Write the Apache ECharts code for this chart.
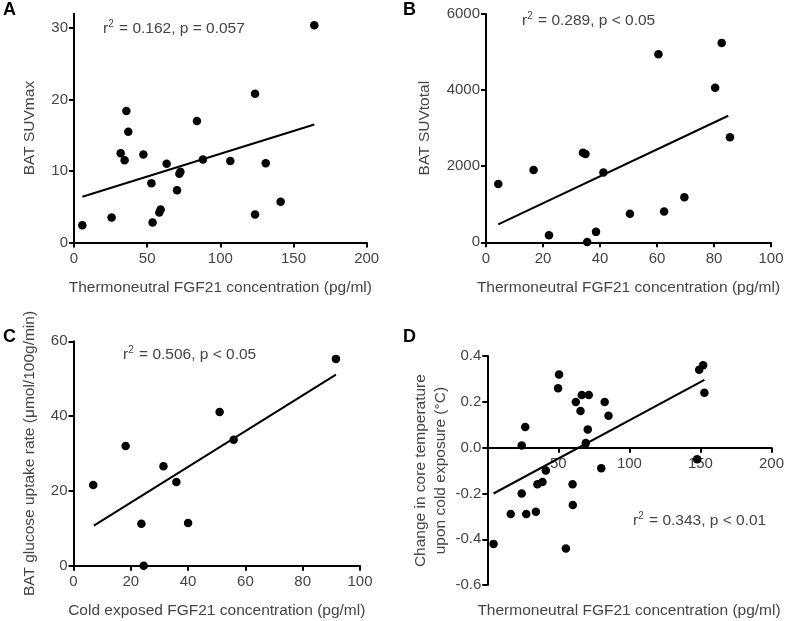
<!DOCTYPE html>
<html>
<head>
<meta charset="utf-8">
<script src="https://cdn.jsdelivr.net/npm/echarts@6/dist/echarts.min.js"></script>
<style>
html,body{margin:0;padding:0;background:#fff;}
#chart{width:787px;height:621px;}
</style>
</head>
<body>
<div id="chart"></div>
<script>
// ---- Panel A: Thermoneutral FGF21 vs BAT SUVmax ----
const aX = [5.7, 25.7, 31.9, 34.6, 35.8, 37.1, 47.4, 52.9, 53.7, 58.3, 59.2, 63.3, 70.4, 72.0, 72.7, 84.0, 88.1, 106.8, 123.7, 123.7, 131.0, 141.2, 164.2];
const aY = [2.4, 3.5, 12.5, 11.5, 18.4, 15.5, 12.3, 8.3, 2.8, 4.2, 4.6, 11.0, 7.3, 9.6, 9.9, 17.0, 11.6, 11.4, 20.8, 3.9, 11.1, 5.7, 30.4];
const aFit = [[5.7, 6.4], [164.2, 16.5]];
const aXTicks = [0, 50, 100, 150, 200];
const aYTicks = [0, 10, 20, 30];

// ---- Panel B: Thermoneutral FGF21 vs BAT SUVtotal ----
const bX = [4.3, 16.7, 22.1, 34.0, 34.9, 35.5, 38.6, 41.2, 50.5, 60.5, 62.5, 69.6, 80.4, 82.7, 85.6];
const bY = [1535, 1897, 185, 2353, 2318, 9, 274, 1835, 750, 4941, 812, 1182, 4059, 5241, 2762];
const bFit = [[4.3, 470], [85.0, 3326]];
const bXTicks = [0, 20, 40, 60, 80, 100];
const bYTicks = [0, 2000, 4000, 6000];

// ---- Panel C: Cold exposed FGF21 vs BAT glucose uptake ----
const cX = [6.9, 18.2, 23.7, 24.5, 31.4, 35.9, 40.0, 51.0, 55.9, 91.6];
const cY = [21.6, 32.0, 11.2, 0.0, 26.6, 22.4, 11.4, 41.1, 33.7, 55.3];
const cFit = [[7.1, 10.7], [91.6, 51.1]];
const cXTicks = [0, 20, 40, 60, 80, 100];
const cYTicks = [0, 20, 40, 60];

// ---- Panel D: Thermoneutral FGF21 vs change in core temperature ----
const dX = [4.4, 16.5, 24.2, 24.2, 26.7, 27.4, 34.2, 35.3, 38.8, 41.2, 49.8, 50.5, 55.3, 60.0, 60.2, 62.3, 65.6, 66.5, 69.3, 70.7, 71.4, 80.2, 82.6, 85.3, 147.7, 149.1, 151.9, 152.8];
const dY = [-0.42, -0.29, 0.01, -0.20, 0.09, -0.29, -0.28, -0.16, -0.15, -0.10, 0.26, 0.32, -0.44, -0.16, -0.25, 0.20, 0.16, 0.23, 0.02, 0.08, 0.23, -0.09, 0.20, 0.14, -0.05, 0.34, 0.36, 0.24];
const dFit = [[4.4, -0.20], [152.8, 0.296]];
const dXTicks = [50, 100, 150, 200];
const dYTicks = [-0.6, -0.4, -0.2, 0.0, 0.2, 0.4];

const FONT = '"Liberation Sans", Arial, Helvetica, sans-serif';
const TXT = '#444';
const zip = (xs, ys) => xs.map((x, i) => [x, ys[i]]);

const chart = echarts.init(document.getElementById('chart'), null, {renderer: 'canvas'});

const grids = [
  {left: 74, top: 13.7, width: 292.7, height: 228.8},
  {left: 486, top: 14, width: 285, height: 228.3},
  {left: 73.5, top: 341.3, width: 286.5, height: 224.4},
  {left: 487.3, top: 356.1, width: 286.7, height: 229}
];

function xAxisCfg(i, min, max, ticks, name, extra) {
  return Object.assign({
    type: 'value', gridIndex: i, min: min, max: max,
    splitLine: {show: false},
    axisLine: {show: true, onZero: false, lineStyle: {color: '#000', width: 2}},
    axisTick: {show: true, length: 5, lineStyle: {color: '#000', width: 2}, customValues: ticks},
    axisLabel: {color: TXT, fontSize: 15, fontFamily: FONT, margin: 9, customValues: ticks, formatter: v => String(v)},
    name: name, nameLocation: 'middle', nameGap: 37,
    nameTextStyle: {color: TXT, fontSize: 15.5, fontFamily: FONT}
  }, extra || {});
}
function yAxisCfg(i, min, max, ticks, name, gap, fmt) {
  return {
    type: 'value', gridIndex: i, min: min, max: max,
    splitLine: {show: false},
    axisLine: {show: true, onZero: false, lineStyle: {color: '#000', width: 2}},
    axisTick: {show: true, length: 5, lineStyle: {color: '#000', width: 2}, customValues: ticks},
    axisLabel: {color: TXT, fontSize: 15, fontFamily: FONT, margin: 6, customValues: ticks, formatter: fmt || (v => String(v))},
    name: name, nameLocation: 'middle', nameGap: gap,
    nameTextStyle: {color: TXT, fontSize: 15.5, fontFamily: FONT, lineHeight: 20}
  };
}

function scatter(i, xs, ys) {
  return {type: 'scatter', xAxisIndex: i, yAxisIndex: i, data: zip(xs, ys),
    symbolSize: 8.5, itemStyle: {color: '#000', opacity: 1}, silent: true, z: 3};
}
function fit(i, pts) {
  return {type: 'line', xAxisIndex: i, yAxisIndex: i, data: pts, showSymbol: false,
    lineStyle: {color: '#000', width: 2}, silent: true, z: 2};
}

const rich = {
  r: {fontSize: 15.5, fontFamily: FONT, fontWeight: 'normal', color: TXT, lineHeight: 20},
  s: {fontSize: 10, fontFamily: FONT, fontWeight: 'normal', color: TXT, verticalAlign: 'top', lineHeight: 20, padding: [0, 1, 8, 0]}
};
function stat(left, top, rest) {
  return {text: '{r|r}{s|2}{r| ' + rest + '}', left: left, top: top, padding: 0,
    textStyle: {rich: rich, fontSize: 15.5, fontWeight: 'normal', fontFamily: FONT, color: TXT}};
}
function panelLabel(t, left, top) {
  return {text: t, left: left, top: top, padding: 0,
    textStyle: {fontSize: 18, fontWeight: 'bold', fontFamily: FONT, color: '#000'}};
}

const option = {
  animation: false,
  backgroundColor: '#fff',
  grid: grids,
  title: [
    panelLabel('A', 3, 1),
    panelLabel('B', 403, 1),
    panelLabel('C', 3, 328),
    panelLabel('D', 403, 328),
    stat(103, 19, '= 0.162, p = 0.057'),
    stat(522, 11, '= 0.289, p < 0.05'),
    stat(123, 345, '= 0.506, p < 0.05'),
    stat(633, 511, '= 0.343, p < 0.01'),
    {text: 'Thermoneutral FGF21 concentration (pg/ml)', left: 629, top: 603, textAlign: 'center', padding: 0,
     textStyle: {color: TXT, fontSize: 15.5, fontWeight: 'normal', fontFamily: FONT}}
  ],
  xAxis: [
    xAxisCfg(0, 0, 200, aXTicks, 'Thermoneutral FGF21 concentration (pg/ml)'),
    xAxisCfg(1, 0, 100, bXTicks, 'Thermoneutral FGF21 concentration (pg/ml)'),
    xAxisCfg(2, 0, 100, cXTicks, 'Cold exposed FGF21 concentration (pg/ml)'),
    xAxisCfg(3, 0, 200, dXTicks, '', {offset: -137.4})
  ],
  yAxis: [
    yAxisCfg(0, 0, 32, aYTicks, 'BAT SUVmax', 34),
    yAxisCfg(1, 0, 6000, bYTicks, 'BAT SUVtotal', 51),
    yAxisCfg(2, 0, 60, cYTicks, 'BAT glucose uptake rate (\u03bcmol/100g/min)', 34),
    yAxisCfg(3, -0.6, 0.4, dYTicks, 'Change in core temperature\nupon cold exposure (\u00b0C)', 37, v => v.toFixed(1))
  ],
  series: [
    fit(0, aFit), scatter(0, aX, aY),
    fit(1, bFit), scatter(1, bX, bY),
    fit(2, cFit), scatter(2, cX, cY),
    fit(3, dFit), scatter(3, dX, dY)
  ]
};
chart.setOption(option);
</script>
</body>
</html>
